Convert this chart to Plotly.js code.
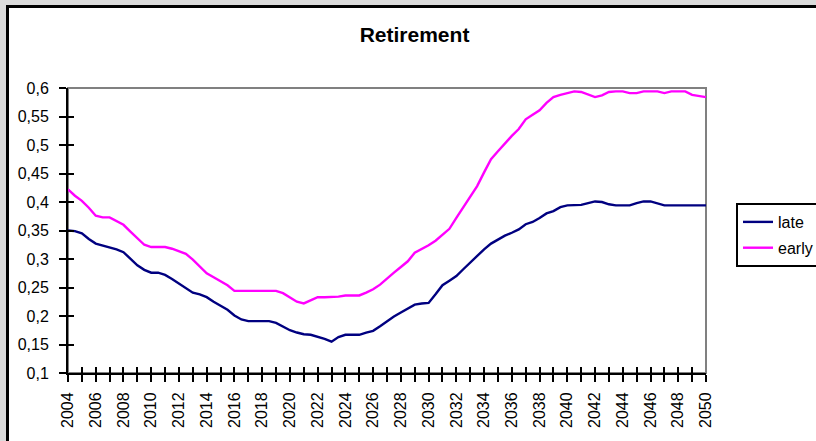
<!DOCTYPE html>
<html>
<head>
<meta charset="utf-8">
<script src="https://cdn.plot.ly/plotly-3.0.1.min.js"></script>
<style>
  html, body { margin: 0; padding: 0; width: 816px; height: 441px; overflow: hidden; background: #dadada; }
  #frame { position: absolute; left: 6px; top: 5px; width: 900px; height: 500px; border: 3px solid #000; background: #fff; }
  #chart { position: absolute; left: 0; top: 0; width: 816px; height: 441px; }
</style>
</head>
<body>
<div id="frame"></div>
<div id="chart"></div>
<script>
// ---- data (semiannual points) ----
const years = [];
for (let k = 0; k <= 92; k++) years.push(2004 + k * 0.5);

const late = [
  0.350, 0.349, 0.345, 0.335, 0.327, 0.324, 0.321, 0.317, 0.312, 0.300,
  0.289, 0.281, 0.276, 0.276, 0.272, 0.265, 0.257, 0.249, 0.241, 0.238,
  0.233, 0.225, 0.218, 0.211, 0.201, 0.194, 0.191, 0.191, 0.191, 0.191,
  0.188, 0.182, 0.175, 0.171, 0.168, 0.167, 0.164, 0.160, 0.155, 0.163,
  0.167, 0.167, 0.167, 0.171, 0.174, 0.182, 0.191, 0.199, 0.206, 0.213,
  0.220, 0.222, 0.223, 0.238, 0.254, 0.262, 0.270, 0.282, 0.294, 0.305,
  0.317, 0.327, 0.334, 0.341, 0.346, 0.352, 0.361, 0.365, 0.372, 0.380,
  0.384, 0.391, 0.394, 0.394, 0.395, 0.398, 0.401, 0.400, 0.396, 0.394,
  0.394, 0.394, 0.398, 0.401, 0.401, 0.397, 0.394, 0.394, 0.394, 0.394,
  0.394, 0.394, 0.394
];

const early = [
  0.422, 0.411, 0.402, 0.390, 0.376, 0.373, 0.373, 0.366, 0.360, 0.348,
  0.336, 0.325, 0.321, 0.321, 0.321, 0.318, 0.314, 0.309, 0.299, 0.287,
  0.275, 0.268, 0.261, 0.254, 0.244, 0.244, 0.244, 0.244, 0.244, 0.244,
  0.244, 0.240, 0.232, 0.225, 0.222, 0.228, 0.233, 0.233, 0.233, 0.234,
  0.236, 0.236, 0.236, 0.241, 0.247, 0.255, 0.266, 0.276, 0.286, 0.296,
  0.311, 0.317, 0.324, 0.332, 0.342, 0.353, 0.372, 0.391, 0.411, 0.428,
  0.452, 0.475, 0.489, 0.503, 0.516, 0.528, 0.545, 0.553, 0.561, 0.574,
  0.584, 0.588, 0.591, 0.594, 0.593, 0.588, 0.584, 0.587, 0.593, 0.594,
  0.594, 0.591, 0.591, 0.594, 0.594, 0.594, 0.591, 0.594, 0.594, 0.594,
  0.588, 0.586, 0.584
];

const xTickVals = [];
const xTickText = [];
for (let y = 2004; y <= 2050; y++) { xTickVals.push(y); xTickText.push(y % 2 === 0 ? String(y) : ''); }

const yTickVals = [0.1, 0.15, 0.2, 0.25, 0.3, 0.35, 0.4, 0.45, 0.5, 0.55, 0.6];
const yTickText = ['0,1', '0,15', '0,2', '0,25', '0,3', '0,35', '0,4', '0,45', '0,5', '0,55', '0,6'];

const FONT = 'Liberation Sans, Arial, sans-serif';

const traces = [
  { x: years, y: late, name: 'late', type: 'scatter', mode: 'lines',
    line: { color: '#000080', width: 2.4 }, legendgroup: 'a' },
  { x: years, y: early, name: 'early', type: 'scatter', mode: 'lines', xaxis: 'x2', yaxis: 'y2',
    line: { color: '#FF00FF', width: 2.4 }, legendgroup: 'b' }
];

const layout = {
  width: 816, height: 441,
  paper_bgcolor: 'rgba(0,0,0,0)', plot_bgcolor: '#ffffff',
  margin: { l: 68, r: 110, t: 88, b: 68, pad: 0 },
  font: { family: FONT, size: 16, color: '#000' },
  title: { text: 'Retirement', font: { family: FONT, size: 21, color: '#000', weight: 'bold' },
           x: 0.508, xref: 'container', xanchor: 'center', y: 1 - 35 / 441, yref: 'container', yanchor: 'middle' },
  showlegend: true,
  legend: { x: 736 / 816, xref: 'container', xanchor: 'left', y: 1 - 203 / 441, yref: 'container', yanchor: 'top',
            bordercolor: '#000', borderwidth: 2, bgcolor: '#fff', tracegroupgap: 2,
            font: { family: FONT, size: 16, color: '#000' } },
  xaxis: { range: [2004, 2050], tickmode: 'array', tickvals: xTickVals, ticktext: xTickText, tickangle: -90,
           showgrid: false, zeroline: false, showline: true, linecolor: '#000', linewidth: 2,
           ticks: 'outside', ticklen: 7, tickwidth: 2, tickcolor: '#000', ticklabelstandoff: 4,
           tickfont: { family: FONT, size: 16, color: '#000' } },
  xaxis2: { range: [2004, 2050], overlaying: 'x', anchor: 'y2', side: 'bottom', tickmode: 'array', tickvals: xTickVals,
            showticklabels: false, showgrid: false, zeroline: false, showline: false,
            ticks: 'inside', ticklen: 6, tickwidth: 2, tickcolor: '#000' },
  yaxis: { range: [0.1, 0.6], tickmode: 'array', tickvals: yTickVals, ticktext: yTickText,
           showgrid: false, zeroline: false, showline: true, linecolor: '#000', linewidth: 2,
           ticks: 'outside', ticklen: 7, tickwidth: 2, tickcolor: '#000', ticklabelstandoff: 7,
           tickfont: { family: FONT, size: 16, color: '#000' } },
  yaxis2: { range: [0.1, 0.6], overlaying: 'y', anchor: 'x2', side: 'left', tickmode: 'array', tickvals: yTickVals,
            showticklabels: false, showgrid: false, zeroline: false, showline: false,
            ticks: 'inside', ticklen: 6, tickwidth: 2, tickcolor: '#000' },
  shapes: [
    { type: 'rect', xref: 'paper', yref: 'paper', x0: 0, x1: 1, y0: 0, y1: 1,
      line: { color: '#808080', width: 2 }, layer: 'below' }
  ]
};

Plotly.newPlot('chart', traces, layout, { staticPlot: true, displayModeBar: false });
</script>
</body>
</html>
